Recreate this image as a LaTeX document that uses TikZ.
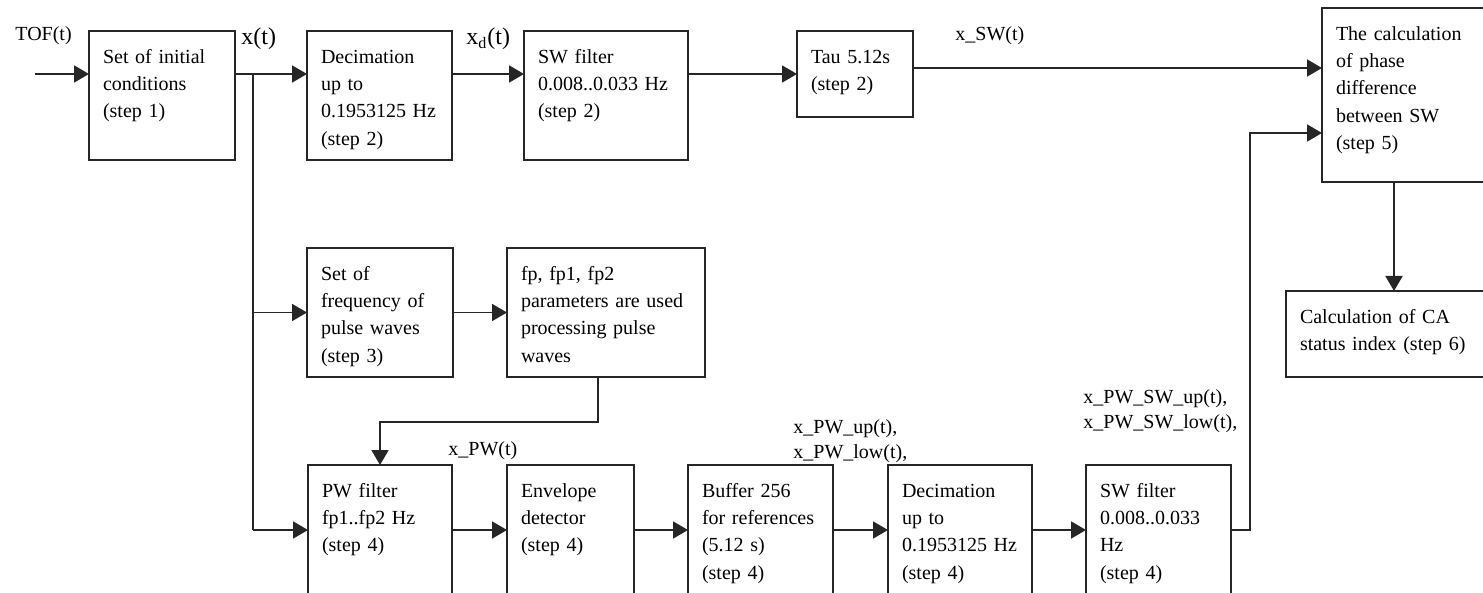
\documentclass[tikz,border=0pt]{standalone}
\usepackage{fontspec}
\setmainfont{Liberation Serif}
\usetikzlibrary{arrows.meta}

\begin{document}
\begin{tikzpicture}[x=0.5pt, y=-0.5pt,
  blk/.style={draw=black!85, line width=0.9pt, outer sep=0pt, anchor=north west, align=left,
    inner xsep=7pt, inner ysep=0pt, text height=16.25pt, font=\fontsize{10}{13.6}\selectfont},
  lbl/.style={anchor=base west, inner sep=0pt, font=\fontsize{10}{12.8}\selectfont},
  biglbl/.style={anchor=base west, inner sep=0pt, font=\fontsize{12}{14}\selectfont},
  sig/.style={draw=black!85, line width=0.9pt, -{Triangle[length=7.5pt,width=8.5pt]}},
  wire/.style={draw=black!85, line width=0.9pt}]

\path[use as bounding box] (0,0) rectangle (1483,593);
\clip (0,0) rectangle (1483,593);

\node[blk, text width=59pt, text depth=48.25pt] (init) at (89,31) {Set of initial\\conditions\\(step 1)};
\node[blk, text width=58.5pt, text depth=48.25pt] (dec) at (307,31) {Decimation\\up to\\0.1953125 Hz\\(step 2)};
\node[blk, text width=68pt, text depth=48.25pt] (swf) at (524,31) {SW filter\\0.008..0.033 Hz\\(step 2)};
\node[blk, text width=44pt, text depth=26.75pt] (tau) at (797,31) {Tau 5.12s\\(step 2)};
\node[blk, text width=86pt, text depth=70.75pt] (phase) at (1322,8) {The calculation\\of phase\\difference\\between SW\\(step 5)};
\node[blk, text width=94pt, text depth=26.75pt] (ca) at (1286,291) {Calculation of CA\\status index (step 6)};
\node[blk, text width=59pt, text depth=48.25pt] (freq) at (307,248) {Set of\\frequency of\\pulse waves\\(step 3)};
\node[blk, text width=85pt, text depth=48.25pt] (fpar) at (507,248) {fp, fp1, fp2\\parameters are used\\processing pulse\\waves};
\node[blk, text width=58pt, text depth=68.75pt] (pwf) at (308,465) {PW filter\\fp1..fp2 Hz\\(step 4)};
\node[blk, text width=49.5pt, text depth=68.75pt] (env) at (507,465) {Envelope\\detector\\(step 4)};
\node[blk, text width=58.5pt, text depth=68.75pt] (buf) at (688,465) {Buffer 256\\for references\\(5.12 s)\\(step 4)};
\node[blk, text width=58pt, text depth=68.75pt] (dec2) at (888,465) {Decimation\\up to\\0.1953125 Hz\\(step 4)};
\node[blk, text width=58.5pt, text depth=68.75pt] (swf2) at (1086,465) {SW filter\\0.008..0.033\\Hz\\(step 4)};

\node[lbl] (tof) at (15,41) {TOF(t)};
\node[biglbl] (xt) at (241,45) {x(t)};
\node[biglbl] (xd) at (466,45) {x\textsubscript{d}(t)};
\node[lbl] (xsw) at (955,41) {x\_SW(t)};
\node[lbl] (xpw) at (448,455) {x\_PW(t)};
\node[lbl, text width=70pt, align=left] (xpwul) at (793,433) {x\_PW\_up(t),\\x\_PW\_low(t),};
\node[lbl, text width=90pt, align=left] (xpwswul) at (1083,403) {x\_PW\_SW\_up(t),\\x\_PW\_SW\_low(t),};

% branch points of the wiring
\coordinate (in) at (35,74);
\coordinate (xtop) at (253,74);
\coordinate (xbot) at (253,530);
\coordinate (fpd) at (598,422);
\coordinate (fpl) at (380,422);
\coordinate (swb) at (1250,530);
\coordinate (swt) at (1250,133);

\draw[sig] (in) -- (in -| init.west);
\draw[wire] (init.east |- xtop) -- (xtop);
\draw[sig] (xtop) -- (xtop -| dec.west);
\draw[wire] (xtop) -- (xbot);
\draw[sig] (xtop |- freq.west) -- (freq.west);
\draw[sig] (xbot) -- (xbot -| pwf.west);
\draw[sig] (dec.east |- xtop) -- (swf.west |- xtop);
\draw[sig] (swf.east |- tau.west) -- (tau.west);
\draw[sig] ([yshift=3pt]tau.east) -- ([yshift=3pt]tau.east -| phase.west);
\draw[sig] (freq.east) -- (fpar.west);
\draw[sig] (fpar.south -| fpd) -- (fpd) -- (fpl) -- (fpl |- pwf.north);
\draw[sig] (pwf.east |- xbot) -- (env.west |- xbot);
\draw[sig] (env.east |- xbot) -- (buf.west |- xbot);
\draw[sig] (buf.east |- xbot) -- (dec2.west |- xbot);
\draw[sig] (dec2.east |- xbot) -- (swf2.west |- xbot);
\draw[sig] (swf2.east |- swb) -- (swb) -- (swt) -- (swt -| phase.west);
\draw[sig] (ca.north |- phase.south) -- (ca.north);
\end{tikzpicture}
\end{document}
